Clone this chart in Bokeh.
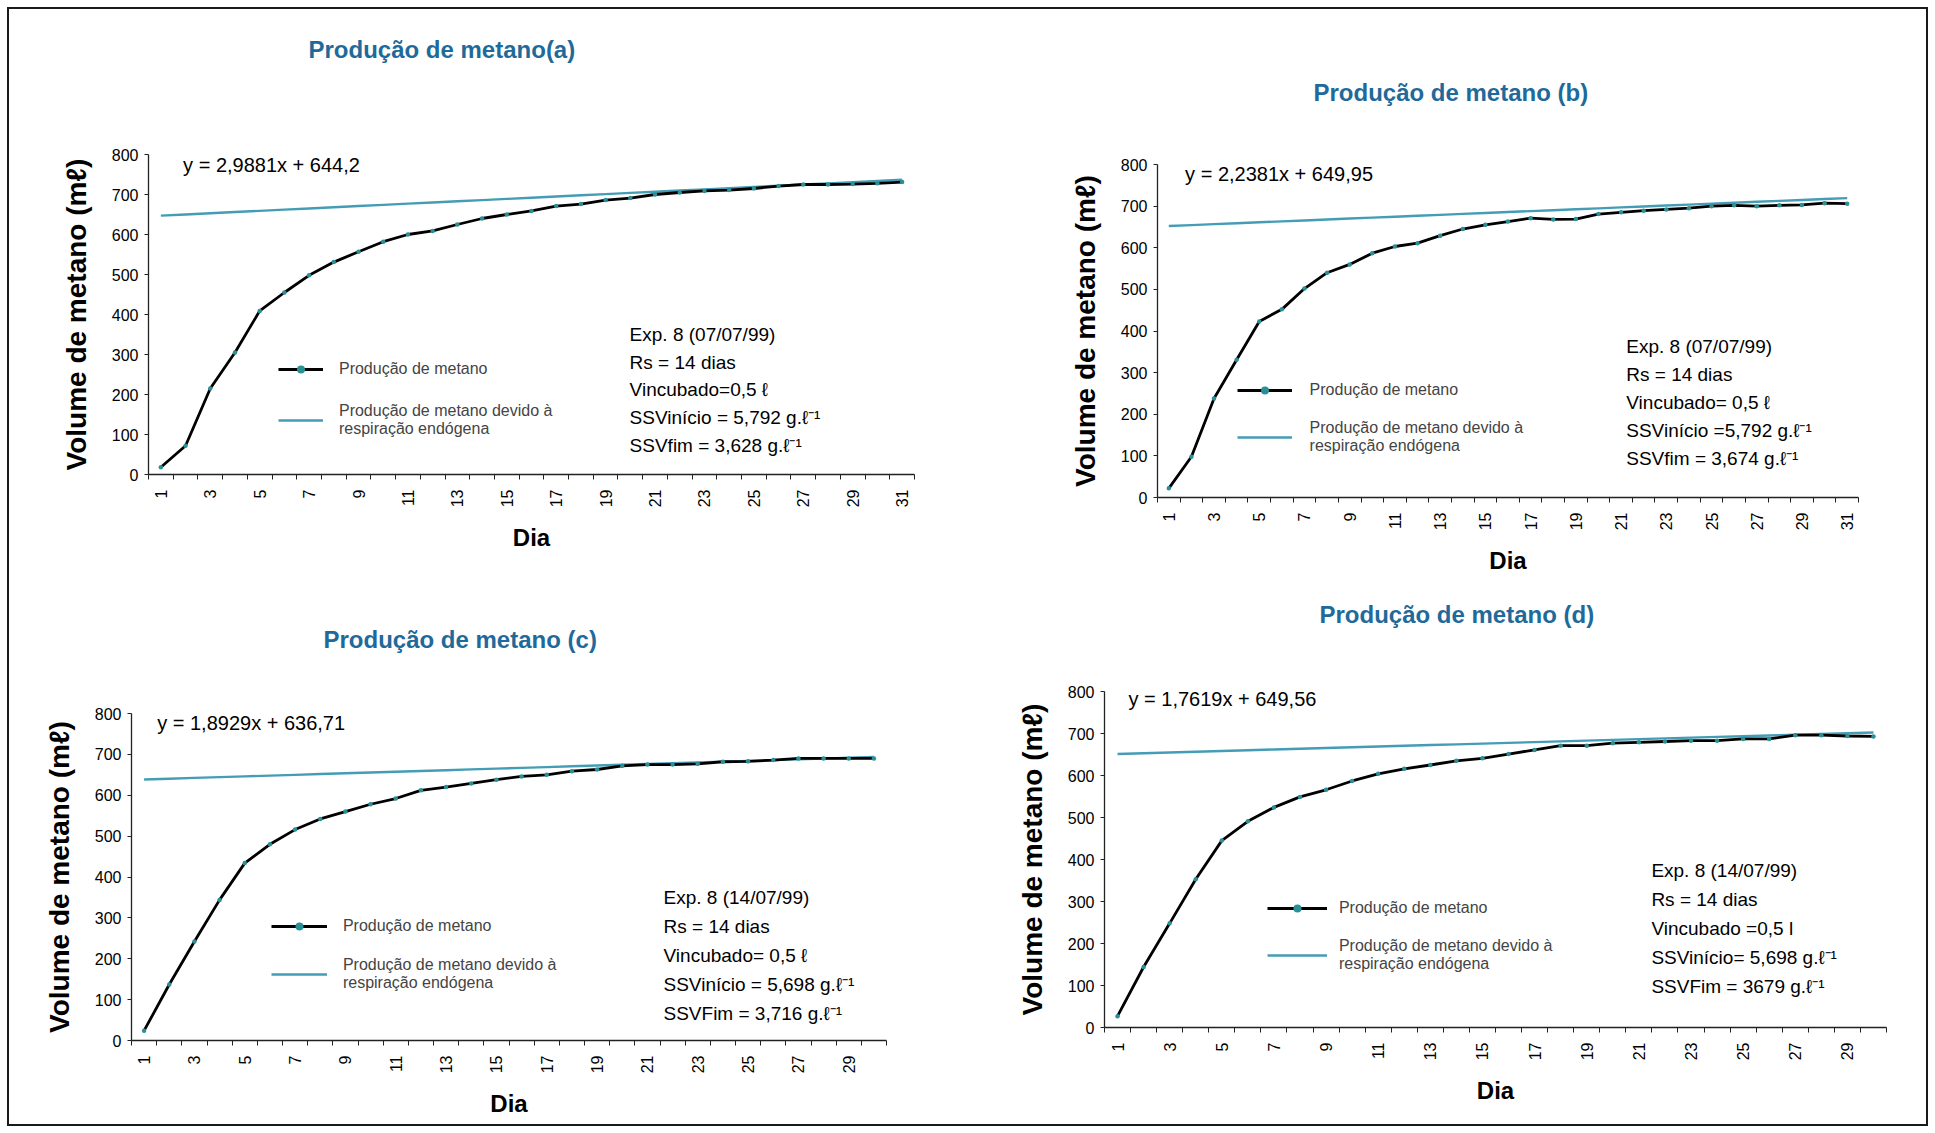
import math

from bokeh.plotting import figure
from bokeh.models import Range1d, FixedTicker, Label, Legend, LegendItem
from bokeh.layouts import row, column
from bokeh.embed import file_html
from bokeh.resources import INLINE

# ---------------------------------------------------------------- data
dias_31 = list(range(1, 32))
dias_30 = list(range(1, 31))

# accumulated methane volume (mℓ) per day
producao_a = [18, 72, 215, 305, 409, 455, 498, 531, 557, 582, 600, 609, 625, 640, 650, 659,
              671, 676, 686, 691, 700, 705, 709, 711, 715, 721, 725, 725, 726, 728, 731]
producao_b = [22, 98, 238, 331, 423, 452, 502, 540, 560, 587, 603, 611, 629, 645, 655, 663,
              671, 668, 669, 681, 685, 689, 692, 695, 700, 702, 700, 702, 703, 707, 706]
producao_c = [24, 137, 242, 344, 434, 480, 516, 542, 560, 578, 592, 612, 620, 629, 638, 646,
              650, 659, 663, 672, 675, 675, 677, 682, 683, 686, 690, 690, 690, 690]
producao_d = [27, 144, 248, 353, 445, 491, 524, 549, 566, 587, 604, 616, 625, 635, 641, 651,
              661, 671, 671, 677, 679, 681, 683, 683, 687, 687, 696, 696, 694, 693]

# endogenous-respiration line: y = slope * x + intercept
inclinacao = {"a": 2.9881, "b": 2.2381, "c": 1.8929, "d": 1.7619}
intercepto = {"a": 644.2, "b": 649.95, "c": 636.71, "d": 649.56}

titulos = {
    "a": "Produção de metano(a)",
    "b": "Produção de metano (b)",
    "c": "Produção de metano (c)",
    "d": "Produção de metano (d)",
}
equacoes = {
    "a": "y = 2,9881x + 644,2",
    "b": "y = 2,2381x + 649,95",
    "c": "y = 1,8929x + 636,71",
    "d": "y = 1,7619x + 649,56",
}
notas = {
    "a": ["Exp. 8 (07/07/99)", "Rs = 14 dias", "Vincubado=0,5 ℓ",
          "SSVinício = 5,792 g.ℓ⁻¹", "SSVfim = 3,628 g.ℓ⁻¹"],
    "b": ["Exp. 8 (07/07/99)", "Rs = 14 dias", "Vincubado= 0,5 ℓ",
          "SSVinício =5,792 g.ℓ⁻¹", "SSVfim = 3,674 g.ℓ⁻¹"],
    "c": ["Exp. 8 (14/07/99)", "Rs = 14 dias", "Vincubado= 0,5 ℓ",
          "SSVinício = 5,698 g.ℓ⁻¹", "SSVFim = 3,716 g.ℓ⁻¹"],
    "d": ["Exp. 8 (14/07/99)", "Rs = 14 dias", "Vincubado =0,5 l",
          "SSVinício= 5,698 g.ℓ⁻¹", "SSVFim = 3679 g.ℓ⁻¹"],
}
serie_1 = "Produção de metano"
serie_2 = "Produção de metano devido à\nrespiração endógena"

# ---------------------------------------------------------------- style
FONT = "Liberation Sans"
TITLE_BLUE = "#1f6a9a"
TEAL = "#449db5"
MARK = "#2b8f96"

# title strip: width, height, text left edge, text centre from strip bottom (px)
faixa = {
    "a": (975, 70, 308, 21),
    "c": (975, 90, 323, 41),
    "b": (960, 110, 338, 18),
    "d": (960, 90, 344, 56),
}
# chart: width, height, border left, right, top, bottom
geo = {
    "a": (975, 520, 148, 61, 84, 116),
    "c": (975, 453, 131, 89, 33, 93),
    "b": (960, 470, 182, 77, 54, 83),
    "d": (960, 463, 129, 49, 21, 106),
}
# legend glyph width / label standoff (px)
legenda_px = {"a": (45, 16), "b": (55, 18), "c": (56, 16), "d": (60, 12)}
# text placement in data units (category, mℓ)
pos = {
    "a": dict(eq=(1.9, 775), leg=(5.76, 262, 133), notes_x=19.97,
              notes_y=[351, 281, 212, 143, 73]),
    "b": dict(eq=(1.72, 776), leg=(4.02, 258, 142), notes_x=21.23,
              notes_y=[362, 295, 228, 161, 94]),
    "c": dict(eq=(1.52, 777), leg=(6.06, 281, 160), notes_x=21.64,
              notes_y=[350, 279, 208, 137, 66]),
    "d": dict(eq=(1.42, 782), leg=(6.75, 282, 168), notes_x=21.48,
              notes_y=[374, 305, 236, 167, 98]),
}

H1, H2 = 24, 34   # heights of the one- and two-line legend entries


def faixa_titulo(key):
    W, H, x0, yc = faixa[key]
    t = figure(width=W, height=H, x_range=Range1d(0, W), y_range=Range1d(0, H),
               x_axis_type=None, y_axis_type=None, output_backend="svg",
               toolbar_location=None, min_border=0)
    t.frame_align = False
    t.border_fill_color = None
    t.background_fill_color = None
    t.outline_line_color = None
    t.grid.visible = False
    t.add_layout(Label(x=x0, y=yc, text=titulos[key], text_align="left",
                       text_baseline="middle", text_font=FONT, text_font_size="24px",
                       text_font_style="bold", text_color=TITLE_BLUE))
    return t


def painel(key, dias, producao):
    n = len(dias)
    W, H, L, R, T, B = geo[key]
    fw, fh = W - L - R, H - T - B
    px_cat, px_val = fw / n, fh / 800.0
    cfg = pos[key]

    p = figure(width=W, height=H, x_range=Range1d(0.5, n + 0.5), y_range=Range1d(0, 800),
               output_backend="svg", toolbar_location=None,
               min_border_left=L, min_border_right=R, min_border_top=T, min_border_bottom=B)
    p.frame_align = False
    p.border_fill_color = None
    p.background_fill_color = None
    p.outline_line_color = None
    p.xgrid.visible = False
    p.ygrid.visible = False

    endogena = [inclinacao[key] * d + intercepto[key] for d in dias]
    r_teal = p.line(dias, endogena, color=TEAL, line_width=2.4)
    r_black = p.line(dias, producao, color="black", line_width=2.8)
    r_pts = p.scatter(dias, producao, size=4.5, color=MARK, line_color=None)

    # category axis: boundary ticks, odd-day labels
    xa = p.xaxis[0]
    xa.ticker = FixedTicker(ticks=list(range(1, n + 1, 2)),
                            minor_ticks=[k + 0.5 for k in range(0, n + 1)])
    xa.major_tick_line_color = None
    xa.major_tick_out = 0
    xa.major_tick_in = 0
    xa.minor_tick_out = 5
    xa.minor_tick_in = 0
    xa.minor_tick_line_color = "#222222"
    xa.major_label_orientation = math.pi / 2
    xa.major_label_standoff = 10
    xa.major_label_text_font = FONT
    xa.major_label_text_font_size = "16px"
    xa.major_label_text_color = "black"
    xa.axis_label = "Dia"
    xa.axis_label_text_font = FONT
    xa.axis_label_text_font_size = "24px"
    xa.axis_label_text_font_style = "bold"
    xa.axis_label_text_color = "black"
    xa.axis_label_standoff = 14
    xa.axis_line_color = "#222222"
    xa.axis_line_width = 1.3

    ya = p.yaxis[0]
    ya.ticker = FixedTicker(ticks=list(range(0, 801, 100)))
    ya.minor_tick_line_color = None
    ya.major_tick_out = 4
    ya.major_tick_in = 0
    ya.major_tick_line_color = "#222222"
    ya.major_label_standoff = 6
    ya.major_label_text_font = FONT
    ya.major_label_text_font_size = "16px"
    ya.major_label_text_color = "black"
    ya.axis_label = "Volume de metano (mℓ)"
    ya.axis_label_text_font = FONT
    ya.axis_label_text_font_size = "28px"
    ya.axis_label_text_font_style = "bold"
    ya.axis_label_text_color = "black"
    ya.axis_label_standoff = 17
    ya.axis_line_color = "#222222"
    ya.axis_line_width = 1.3

    ex, ey = cfg["eq"]
    p.add_layout(Label(x=ex, y=ey, text=equacoes[key], text_align="left",
                       text_baseline="middle", text_font=FONT, text_font_size="20px",
                       text_color="black"))
    for texto, yy in zip(notas[key], cfg["notes_y"]):
        p.add_layout(Label(x=cfg["notes_x"], y=yy, text=texto, text_align="left",
                           text_baseline="middle", text_font=FONT, text_font_size="19px",
                           text_color="black"))

    gx, c1, c2 = cfg["leg"]
    gw, gs = legenda_px[key]
    spacing = (c1 - c2) * px_val - H1 / 2 - H2 / 2
    legend = Legend(
        items=[LegendItem(label=serie_1, renderers=[r_black, r_pts]),
               LegendItem(label=serie_2, renderers=[r_teal])],
        location=((gx - 0.5) * px_cat, c2 * px_val - H2 / 2),
        orientation="vertical", padding=0, margin=0, spacing=int(round(spacing)),
        glyph_width=gw, glyph_height=20, label_standoff=gs,
        label_text_font=FONT, label_text_font_size="16px", label_text_line_height=1.3,
        label_height=20, border_line_color=None, background_fill_alpha=0,
    )
    p.add_layout(legend)
    return p


esquerda = column(faixa_titulo("a"), painel("a", dias_31, producao_a),
                  faixa_titulo("c"), painel("c", dias_30, producao_c))
direita = column(faixa_titulo("b"), painel("b", dias_31, producao_b),
                 faixa_titulo("d"), painel("d", dias_30, producao_d))

layout = row(esquerda, direita,
             styles={"outline": "2px solid #1a1a1a", "outline-offset": "-9px"})

open("out.html", "w").write(file_html(layout, INLINE))
